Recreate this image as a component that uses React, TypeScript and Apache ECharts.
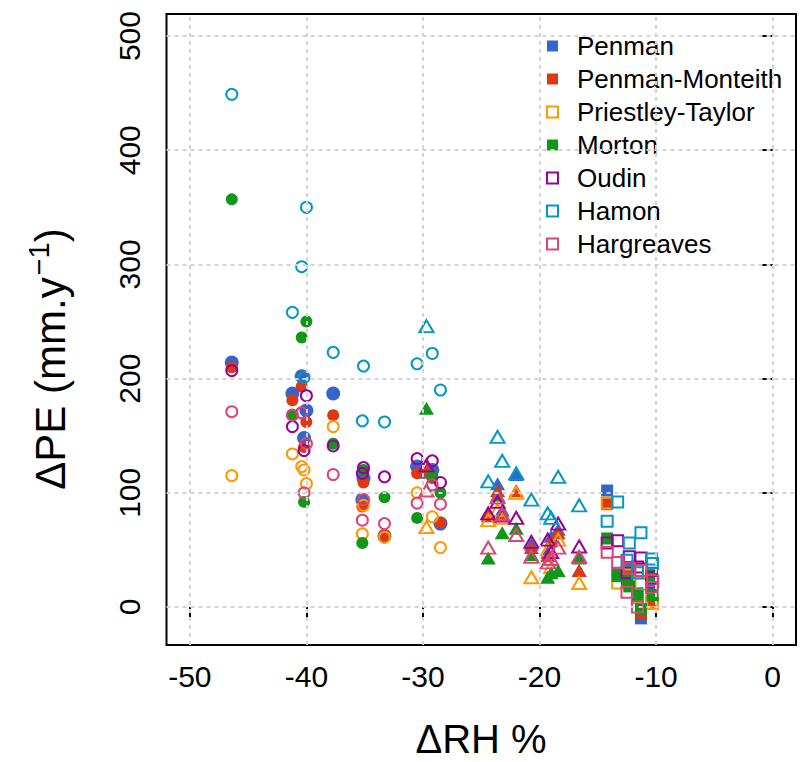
import React, { useEffect, useRef } from "react";
import * as echarts from "echarts";

// Site relative-humidity change (%), one entry per site
const siteRH = [
  -46.4, -41.2, -40.4, -40.0, -40.2, -37.7, -35.1, -35.2, -33.3, -30.5, -29.2, -28.5,
  -29.7, -24.4, -23.6, -23.2, -22.0, -20.7, -19.3, -19.0, -18.4, -16.6,
  -14.2, -13.3, -12.3, -11.3, -12.5, -10.4, -10.3, -11.6,
];
// Marker shape for each site
const siteShape = [
  "circle", "circle", "circle", "circle", "circle", "circle", "circle", "circle", "circle", "circle", "circle", "circle",
  "triangle", "triangle", "triangle", "triangle", "triangle", "triangle", "triangle", "triangle", "triangle", "triangle",
  "rect", "rect", "rect", "rect", "rect", "rect", "rect", "rect",
];

// ΔPE (mm/y) per method, per site
const penman = [214, 187, 202, 172, 148, 187, 113, 94, 62, 123, 120, 73, 118, 82, 108, 85, 116, 55, 48, 62, 68, 32, 102, 30, 35, -10, 25, 30, 20, 12];
const penmanMonteith = [210, 181, 193, 162, 140, 168, 109, 88, 63, 117, 113, 74, 120, 80, 102, 82, 102, 52, 45, 58, 65, 32, 90, 28, 30, -6, 22, 28, 3, 10];
const priestleyTaylor = [115, 134, 123, 108, 120, 158, 89, 64, 61, 100, 79, 52, 70, 76, 85, 78, 100, 26, 50, 35, 59, 21, 91, 21, 22, 20, 28, 5, 3, 8];
const morton = [357, 168, 236, 250, 92, 143, 120, 56, 96, 78, 115, 100, 174, 43, 98, 65, 69, 46, 26, 30, 32, 43, 60, 27, 18, -2, 24, 28, 10, 10];
const oudin = [207, 158, 170, 185, 137, 141, 122, 117, 114, 130, 128, 109, 124, 82, 92, 80, 78, 57, 59, 48, 73, 53, 56, 58, 44, 43, 30, 26, 22, 35];
const hamon = [449, 258, 298, 350, 201, 223, 211, 163, 162, 213, 222, 190, 246, 110, 149, 128, 117, 94, 82, 78, 114, 89, 75, 92, 56, 65, 41, 42, 38, 30];
const hargreaves = [171, 168, 170, 143, 100, 116, 94, 76, 73, 91, 107, 90, 102, 52, 96, 81, 63, 44, 39, 42, 52, 44, 48, 39, 34, 32, 13, 17, 23, 0];

const xTicks = [-50, -40, -30, -20, -10, 0];
const yTicks = [0, 100, 200, 300, 400, 500];

const methods = [
  { name: "Penman", color: "#3366CC", filled: true, values: penman, big: true },
  { name: "Penman-Monteith", color: "#DC3912", filled: true, values: penmanMonteith, big: false },
  { name: "Priestley-Taylor", color: "#FF9900", filled: false, values: priestleyTaylor, big: false },
  { name: "Morton", color: "#109618", filled: true, values: morton, big: false },
  { name: "Oudin", color: "#990099", filled: false, values: oudin, big: false },
  { name: "Hamon", color: "#0099C6", filled: false, values: hamon, big: false },
  { name: "Hargreaves", color: "#DD4477", filled: false, values: hargreaves, big: false },
];

const FONT = "'Liberation Sans', Arial, sans-serif";

function symbolSizeFor(shape: string, filled: boolean, big: boolean): number | number[] {
  if (shape === "circle") return filled ? (big ? 14 : 12) : 11;
  if (shape === "triangle") return filled ? [15, 13] : [14, 12];
  return filled ? 12 : 11;
}

export default function App() {
  const ref = useRef<HTMLDivElement>(null);
  useEffect(() => {
    if (!ref.current) return;
    const chart = echarts.init(ref.current, undefined, { renderer: "svg" });

    const scatterSeries = methods.map((m) => ({
      type: "scatter",
      name: m.name,
      z: 3,
      data: m.values.map((v, i) => ({
        value: [siteRH[i], v],
        symbol: siteShape[i],
        symbolSize: symbolSizeFor(siteShape[i], m.filled, m.big),
      })),
      itemStyle: m.filled
        ? { color: m.color, borderWidth: 0, opacity: 1 }
        : { color: "rgba(0,0,0,0)", borderColor: m.color, borderWidth: 2, opacity: 1 },
      emphasis: { disabled: true },
    }));

    const option: any = {
      animation: false,
      grid: {
        left: 166.5,
        right: 14,
        top: 14,
        bottom: 117,
        show: true,
        borderColor: "#000",
        borderWidth: 2,
        backgroundColor: "rgba(0,0,0,0)",
        containLabel: false,
      },
      xAxis: {
        type: "value",
        min: -52,
        max: 2,
        axisLine: { show: false },
        splitLine: { show: false },
        axisTick: {
          show: true,
          customValues: xTicks,
          length: 12,
          lineStyle: { color: "#000", width: 2 },
        },
        axisLabel: {
          customValues: xTicks,
          color: "#000",
          fontSize: 30,
          fontFamily: FONT,
          margin: 16,
          formatter: (v: number) => String(v),
        },
      },
      yAxis: {
        type: "value",
        min: -33.3,
        max: 519.3,
        axisLine: { show: false },
        splitLine: { show: false },
        axisTick: {
          show: true,
          customValues: yTicks,
          length: 12,
          lineStyle: { color: "#000", width: 2 },
        },
        axisLabel: {
          customValues: yTicks,
          rotate: 90,
          color: "#000",
          fontSize: 30,
          fontFamily: FONT,
          margin: 22,
          formatter: (v: number) => String(v),
        },
      },
      legend: {
        orient: "vertical",
        left: 541,
        top: 26,
        itemWidth: 11,
        itemHeight: 11,
        itemGap: 3,
        selectedMode: false,
        textStyle: {
          fontSize: 26,
          fontFamily: FONT,
          color: "#000",
          lineHeight: 30,
          padding: [0, 0, 0, 14],
        },
        data: methods.map((m) => ({
          name: m.name,
          icon: "rect",
          itemStyle: m.filled
            ? { color: m.color, borderWidth: 0 }
            : { color: "#fff", borderColor: m.color, borderWidth: 2 },
        })),
      },
      graphic: [
        {
          type: "text",
          x: 481,
          y: 739,
          style: {
            text: "ΔRH %",
            fontSize: 40,
            fontFamily: FONT,
            fill: "#000",
            textAlign: "center",
            textVerticalAlign: "middle",
          },
        },
        {
          type: "text",
          x: 50,
          y: 359,
          rotation: Math.PI / 2,
          style: {
            text: "{m|ΔPE (mm.y}{s|−1}{m|)}",
            textAlign: "center",
            textVerticalAlign: "middle",
            fill: "#000",
            rich: {
              m: { fontSize: 42, fontFamily: FONT, fill: "#000", color: "#000" },
              s: { fontSize: 29, fontFamily: FONT, fill: "#000", color: "#000", padding: [0, 0, 22, 2] },
            },
          },
        },
      ],
      series: [
        {
          type: "scatter",
          name: "__grid",
          data: [],
          z: 1,
          silent: true,
          markLine: {
            silent: true,
            symbol: ["none", "none"],
            label: { show: false },
            lineStyle: { color: "#d3d3d3", type: [4, 4], width: 2 },
            emphasis: { disabled: true },
            data: [
              ...xTicks.map((v) => ({ xAxis: v })),
              ...yTicks.map((v) => ({ yAxis: v })),
            ],
          },
        },
        ...scatterSeries,
      ],
    };
    chart.setOption(option);
    return () => chart.dispose();
  }, []);
  return <div ref={ref} style={{ width: 810, height: 762, margin: -8 }} />;
}
